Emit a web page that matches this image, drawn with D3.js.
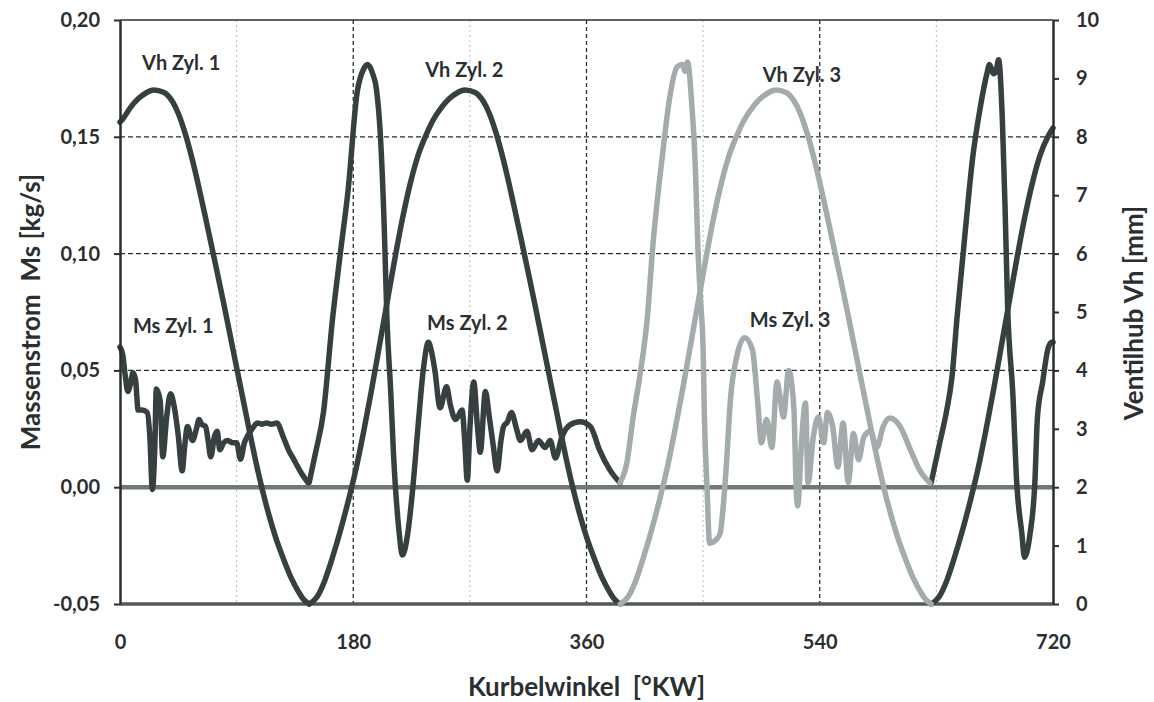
<!DOCTYPE html>
<meta charset="utf-8">
<style>
  body { margin: 0; background: #fff; }
  text { font-family: Lato, "Open Sans", sans-serif; font-weight: bold; fill: #2b2f30; }
</style>
<svg width="1154" height="702"></svg>
<script src="https://d3js.org/d3.v7.min.js"></script>
<script>

// Kurbelwinkel [°KW] -> Ventilhub [mm] / Massenstrom [kg/s]; null = break in the line
var vhZyl1 = [[0,8.25],[2,8.3],[8,8.5],[14,8.65],[20,8.75],[26,8.8],[34,8.76],[40,8.62],[45,8.4],[50,8.08],[55,7.68],[60,7.22],
  [65,6.72],[70,6.2],[75,5.68],[80,5.15],[85,4.6],[90,4.05],[95,3.5],[100,2.95],[105,2.42],[110,1.94],[115,1.52],[120,1.15],
  [126,0.78],[132,0.45],[138,0.2],[142,0.07],[146,0],
  null,
  [626,0],[632,0.12],[638,0.4],[644,0.8],[650,1.25],[656,1.75],[662,2.3],[668,2.95],[674,3.65],[680,4.4],[686,5.15],
  [692,5.9],[698,6.6],[704,7.2],[710,7.68],[716,8.0],[720,8.15]];

var vhZyl2 = [[146,0],[152,0.12],[158,0.4],[164,0.8],[170,1.25],[176,1.75],[182,2.3],[188,2.95],[194,3.65],[200,4.4],
  [206,5.15],[212,5.9],[218,6.6],[224,7.2],[230,7.68],[236,8.02],[242,8.3],[248,8.5],[254,8.65],[260,8.75],[266,8.8],
  [274,8.76],[280,8.62],[285,8.4],[290,8.08],[295,7.68],[300,7.22],[305,6.72],[310,6.2],[315,5.68],[320,5.15],[325,4.6],
  [330,4.05],[335,3.5],[340,2.95],[345,2.42],[350,1.94],[355,1.52],[360,1.15],[366,0.78],[372,0.45],[378,0.2],[382,0.07],[386,0]];

var vhZyl3 = [[386,0],[392,0.12],[398,0.4],[404,0.8],[410,1.25],[416,1.75],[422,2.3],[428,2.95],[434,3.65],[440,4.4],
  [446,5.15],[452,5.9],[458,6.6],[464,7.2],[470,7.68],[476,8.02],[482,8.3],[488,8.5],[494,8.65],[500,8.75],[506,8.8],
  [514,8.76],[520,8.62],[525,8.4],[530,8.08],[535,7.68],[540,7.22],[545,6.72],[550,6.2],[555,5.68],[560,5.15],[565,4.6],
  [570,4.05],[575,3.5],[580,2.95],[585,2.42],[590,1.94],[595,1.52],[600,1.15],[606,0.78],[612,0.45],[618,0.2],[622,0.07],[626,0]];

var msZyl1 = [[0,0.060],[2,0.057],[4,0.048],[6,0.041],[8,0.044],[10,0.049],[12,0.046],[14,0.033],[17,0.033],[21,0.032],
  [23,0.022],[25,-0.001],[27,0.020],[28,0.042],[31,0.037],[33,0.013],[36,0.030],[39,0.040],[42,0.034],[45,0.022],[48,0.007],
  [50,0.018],[52,0.026],[56,0.020],[59,0.025],[61,0.029],[63,0.027],[66,0.026],[68,0.020],[70,0.013],[73,0.022],[75,0.024],
  [77,0.016],[80,0.019],[83,0.020],[87,0.019],[90,0.019],[93,0.012],[96,0.019],[98,0.0215],[102,0.025],[106,0.0275],
  [110,0.027],[113,0.0275],[117,0.027],[121,0.0275],[126,0.0215],[130,0.016],[134,0.012],[140,0.006],[145,0.002],
  null,
  [626,0.002],[633,0.020],[638,0.033],[642,0.047],[646,0.073],[651,0.102],[658,0.141],[664,0.163],[669,0.177],[671,0.181],
  [674,0.177],[676,0.178],[678,0.183],[681,0.156],[683,0.120],[685,0.077],[689,0.040],[692,0.002],[696,-0.020],[698,-0.030],
  [702,-0.021],[706,0.002],[708,0.030],[712,0.045],[716,0.059],[719,0.062],[720,0.062]];

var msZyl2 = [[146,0.002],[151,0.015],[157,0.032],[164,0.072],[170,0.100],[176,0.127],[183,0.169],[188,0.179],[191,0.181],
  [195,0.177],[198,0.170],[201,0.150],[204,0.110],[206,0.072],[209,0.040],[211,0.015],[215,-0.017],[218,-0.029],[222,-0.020],
  [226,0.0],[230,0.026],[234,0.050],[238,0.062],[240,0.059],[243,0.050],[247,0.034],[252,0.043],[255,0.035],[259,0.029],
  [264,0.033],[266,0.020],[268,0.003],[270,0.025],[273,0.045],[276,0.025],[278,0.015],[282,0.041],[285,0.030],[288,0.018],
  [291,0.007],[294,0.020],[296,0.026],[299,0.028],[302,0.032],[306,0.025],[309,0.020],[314,0.024],[318,0.016],[323,0.020],
  [328,0.017],[332,0.020],[336,0.0125],[341,0.0215],[347,0.0266],[355,0.028],[363,0.026],[370,0.016],[378,0.0074],[386,0.0018]];

var msZyl3 = [[386,0.002],[391,0.010],[396,0.030],[401,0.047],[407,0.073],[411,0.102],[419,0.144],[424,0.166],[430,0.180],
  [434,0.181],[436,0.178],[438,0.182],[441,0.166],[444,0.137],[446,0.102],[448,0.080],[450,0.059],[451,0.030],[453,0.0],
  [455,-0.024],[459,-0.023],[463,-0.020],[466,-0.005],[468,0.010],[471,0.037],[476,0.056],[482,0.064],[488,0.059],[492,0.037],
  [495,0.019],[499,0.029],[503,0.017],[507,0.045],[509,0.040],[512,0.030],[516,0.050],[520,0.034],[522,-0.003],[523,-0.008],
  [526,0.020],[529,0.036],[531,0.002],[535,0.0215],[539,0.030],[543,0.019],[546,0.032],[550,0.026],[554,0.0087],[558,0.0275],
  [562,0.002],[566,0.023],[570,0.0117],[574,0.0215],[579,0.024],[584,0.017],[589,0.026],[594,0.0296],[602,0.026],[610,0.016],
  [617,0.0074],[625,0.0018]];

var xTicks = [0, 180, 360, 540, 720],
    xGridMajor = [180, 360, 540],
    xGridMinor = [90, 270, 450, 630],
    msTicks = [-0.05, 0, 0.05, 0.10, 0.15, 0.20],
    msGrid = [0.05, 0.10, 0.15],
    vhTicks = [0, 1, 2, 3, 4, 5, 6, 7, 8, 9, 10];

var labels = [
  {text: "Vh Zyl. 1", deg: 17, ms: 0.1786},
  {text: "Vh Zyl. 2", deg: 235.5, ms: 0.1756},
  {text: "Vh Zyl. 3", deg: 496, ms: 0.1735},
  {text: "Ms Zyl. 1", deg: 10, ms: 0.066},
  {text: "Ms Zyl. 2", deg: 237, ms: 0.0673},
  {text: "Ms Zyl. 3", deg: 486, ms: 0.0686}
];

var dark = "#364040", light = "#a3abac";

var svg = d3.select("svg"),
    mLeft = 120, mRight = 1053, mTop = 20, mBottom = 604;

var x = d3.scaleLinear().domain([0, 720]).range([mLeft, mRight]),
    yMs = d3.scaleLinear().domain([-0.05, 0.20]).range([mBottom, mTop]),
    yVh = d3.scaleLinear().domain([0, 10]).range([mBottom, mTop]);

var de = d3.formatLocale({decimal: ",", thousands: ".", grouping: [3], currency: ["", "€"], minus: "-"}),
    fmt = de.format(".2f");

// grid
svg.append("g").selectAll("line").data(xGridMinor).join("line")
    .attr("x1", x).attr("x2", x).attr("y1", mTop).attr("y2", mBottom)
    .attr("stroke", "#b8bcbd").attr("stroke-width", 1).attr("stroke-dasharray", "2,3");
svg.append("g").selectAll("line").data(xGridMajor).join("line")
    .attr("x1", x).attr("x2", x).attr("y1", mTop).attr("y2", mBottom)
    .attr("stroke", "#2a2e2f").attr("stroke-width", 1.3).attr("stroke-dasharray", "4,3");
svg.append("g").selectAll("line").data(msGrid).join("line")
    .attr("x1", mLeft).attr("x2", mRight).attr("y1", yMs).attr("y2", yMs)
    .attr("stroke", "#2a2e2f").attr("stroke-width", 1.3).attr("stroke-dasharray", "5,3");

// frame
svg.append("line").attr("x1", mLeft).attr("x2", mRight).attr("y1", mTop).attr("y2", mTop)
    .attr("stroke", "#2a2e2f").attr("stroke-width", 1.5);
svg.append("line").attr("x1", mLeft).attr("x2", mRight).attr("y1", mBottom).attr("y2", mBottom)
    .attr("stroke", "#525a5a").attr("stroke-width", 3.5);
svg.append("line").attr("x1", mLeft).attr("x2", mRight).attr("y1", yMs(0)).attr("y2", yMs(0))
    .attr("stroke", "#6f7777").attr("stroke-width", 4.5);

// series
var line = d3.line()
    .defined(function(d) { return d !== null; })
    .x(function(d) { return x(d[0]); })
    .curve(d3.curveMonotoneX);

function draw(data, y, color) {
  svg.append("path")
      .datum(data)
      .attr("fill", "none")
      .attr("stroke", color)
      .attr("stroke-width", 5.5)
      .attr("stroke-linejoin", "round")
      .attr("stroke-linecap", "round")
      .attr("d", line.y(function(d) { return y(d[1]); }));
}

draw(vhZyl1, yVh, dark);
draw(vhZyl2, yVh, dark);
draw(msZyl1, yMs, dark);
draw(msZyl2, yMs, dark);
draw(vhZyl3, yVh, light);
draw(msZyl3, yMs, light);

// axes
var axL = svg.append("g").attr("transform", "translate(" + mLeft + ",0)")
    .call(d3.axisLeft(yMs).tickValues(msTicks).tickFormat(fmt).tickSize(6).tickSizeOuter(0).tickPadding(14));
var axR = svg.append("g").attr("transform", "translate(" + mRight + ",0)")
    .call(d3.axisRight(yVh).tickValues(vhTicks).tickFormat(d3.format("d")).tickSize(6).tickSizeOuter(0).tickPadding(17));
var axB = svg.append("g").attr("transform", "translate(0," + mBottom + ")")
    .call(d3.axisBottom(x).tickValues(xTicks).tickFormat(d3.format("d")).tickSize(0).tickPadding(31));
axB.select(".domain").remove();

[axL, axR].forEach(function(a) {
  a.select(".domain").attr("stroke", "#2a2e2f").attr("stroke-width", 2.5);
  a.selectAll(".tick line").attr("stroke", "#2a2e2f").attr("stroke-width", 2);
});
[axL, axR, axB].forEach(function(a) {
  a.attr("font-family", null).attr("font-size", null);
  a.selectAll("text").style("font-size", "20px").style("fill", "#2b2f30");
});

// series labels
svg.append("g").selectAll("text").data(labels).join("text")
    .attr("x", function(d) { return x(d.deg); })
    .attr("y", function(d) { return yMs(d.ms); })
    .style("font-size", "20px")
    .text(function(d) { return d.text; });

// axis titles
svg.append("text")
    .attr("transform", "translate(" + x(360) + ",696)")
    .attr("text-anchor", "middle")
    .style("font-size", "26px")
    .style("white-space", "pre")
    .text("Kurbelwinkel  [°KW]");
svg.append("text")
    .attr("transform", "translate(40,312) rotate(-90)")
    .attr("text-anchor", "middle")
    .style("font-size", "26px")
    .style("white-space", "pre")
    .text("Massenstrom  Ms [kg/s]");
svg.append("text")
    .attr("transform", "translate(1143,313) rotate(-90)")
    .attr("text-anchor", "middle")
    .style("font-size", "26px")
    .text("Ventilhub Vh [mm]");

</script>
